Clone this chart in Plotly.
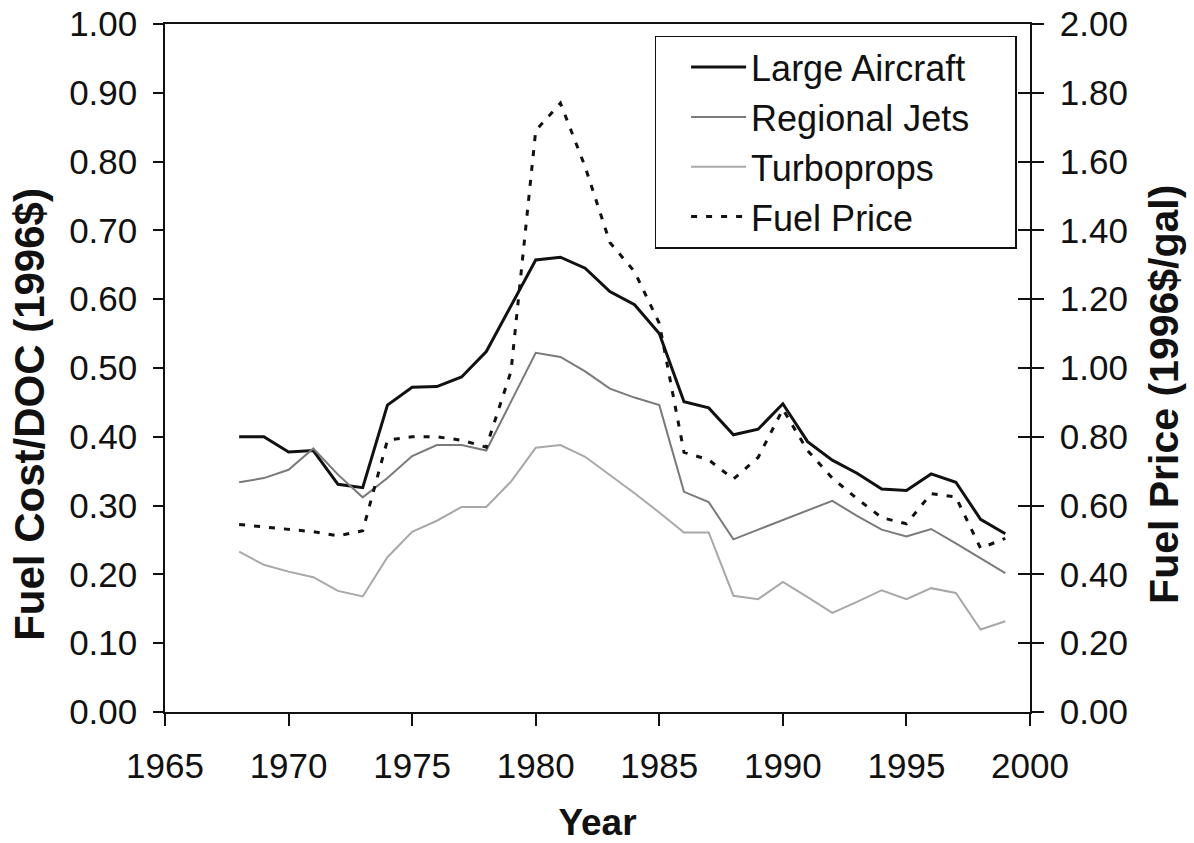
import plotly.graph_objects as go

years = list(range(1968, 2000))

large_aircraft = [0.400, 0.400, 0.378, 0.380, 0.331, 0.326, 0.446, 0.472, 0.473, 0.487,
                  0.524, 0.590, 0.657, 0.661, 0.645, 0.611, 0.592, 0.550, 0.451, 0.442,
                  0.403, 0.411, 0.448, 0.393, 0.366, 0.347, 0.324, 0.322, 0.346, 0.334,
                  0.280, 0.259]

regional_jets = [0.334, 0.340, 0.352, 0.383, 0.345, 0.312, 0.340, 0.372, 0.388, 0.388,
                 0.380, 0.450, 0.522, 0.516, 0.495, 0.470, 0.457, 0.446, 0.320, 0.305,
                 0.251, 0.265, 0.279, 0.293, 0.307, 0.285, 0.265, 0.255, 0.266, 0.245,
                 0.224, 0.202]

turboprops = [0.233, 0.214, 0.204, 0.196, 0.176, 0.168, 0.225, 0.262, 0.278, 0.298,
              0.298, 0.335, 0.384, 0.388, 0.371, 0.345, 0.318, 0.290, 0.261, 0.261,
              0.169, 0.164, 0.189, 0.167, 0.144, 0.160, 0.177, 0.164, 0.180, 0.173,
              0.120, 0.132]

fuel_price = [0.545, 0.538, 0.530, 0.524, 0.512, 0.527, 0.790, 0.800, 0.800, 0.790,
              0.770, 0.990, 1.690, 1.770, 1.585, 1.365, 1.280, 1.130, 0.755, 0.733,
              0.677, 0.740, 0.880, 0.760, 0.680, 0.620, 0.565, 0.547, 0.635, 0.625,
              0.476, 0.505]

series_names = ["Large Aircraft", "Regional Jets", "Turboprops", "Fuel Price"]
x_title = "Year"
y_title = "Fuel Cost/DOC (1996$)"
y2_title = "Fuel Price (1996$/gal)"

FONT = "Liberation Sans, Arial, sans-serif"
PAD = "\u00a0" * 4

fig = go.Figure()
fig.add_trace(go.Scatter(x=years, y=large_aircraft, name=series_names[0] + PAD, mode="lines",
                         line=dict(color="#111111", width=3)))
fig.add_trace(go.Scatter(x=years, y=regional_jets, name=series_names[1] + PAD, mode="lines",
                         line=dict(color="#7a7a7a", width=2)))
fig.add_trace(go.Scatter(x=years, y=turboprops, name=series_names[2] + PAD, mode="lines",
                         line=dict(color="#a8a8a8", width=2)))
fig.add_trace(go.Scatter(x=years, y=fuel_price, name=series_names[3] + PAD, mode="lines",
                         yaxis="y2", line=dict(color="#111111", width=3, dash="6px,9px")))
# helper trace so the inside-tick overlay axis is drawn (cross ticks on right axis)
fig.add_trace(go.Scatter(x=years, y=fuel_price, yaxis="y3", mode="lines", opacity=0,
                         showlegend=False, hoverinfo="skip", line=dict(width=0)))

fig.update_layout(
    width=1194, height=843,
    margin=dict(l=165, r=164, t=24, b=131),
    paper_bgcolor="white", plot_bgcolor="white",
    font=dict(family=FONT, size=35, color="#111111"),
    showlegend=True,
    legend=dict(x=0.566, y=0.983, xanchor="left", yanchor="top",
                bordercolor="#111111", borderwidth=1.5, bgcolor="white",
                font=dict(family=FONT, size=36, color="#111111"),
                itemwidth=55, tracegroupgap=0, indentation=30),
    xaxis=dict(range=[1965, 2000], dtick=5, tick0=1965, showgrid=False, zeroline=False,
               automargin=False,
               showline=True, linecolor="#111111", linewidth=1.5, mirror=True,
               ticks="outside", ticklen=12, tickcolor="#111111", tickwidth=1.5,
               ticklabelstandoff=10,
               tickfont=dict(family=FONT, size=35, color="#111111"),
               title=dict(text="<b>" + x_title + "</b>", standoff=28,
                          font=dict(family=FONT, size=37, color="#111111"))),
    yaxis=dict(range=[0, 1], dtick=0.1, tickformat=".2f", showgrid=False, zeroline=False,
               automargin=False,
               showline=True, linecolor="#111111", linewidth=1.5,
               ticks="outside", ticklen=10, tickcolor="#111111", tickwidth=1.5,
               ticklabelstandoff=9,
               tickfont=dict(family=FONT, size=35, color="#111111")),
    yaxis2=dict(range=[0, 2], dtick=0.2, tickformat=".2f", overlaying="y", side="right",
                anchor="x", showgrid=False, zeroline=False, automargin=False,
                showline=True, linecolor="#111111", linewidth=1.5,
                ticks="outside", ticklen=12, tickcolor="#111111", tickwidth=1.5,
                ticklabelstandoff=9,
                tickfont=dict(family=FONT, size=35, color="#111111")),
    yaxis3=dict(range=[0, 2], dtick=0.2, overlaying="y", side="right", anchor="x",
                showgrid=False, zeroline=False, showline=False, showticklabels=False,
                automargin=False,
                ticks="inside", ticklen=12, tickcolor="#111111", tickwidth=1.5),
    annotations=[
        dict(text="<b>" + y_title + "</b>", textangle=-90, xref="paper", yref="paper",
             x=-0.156, y=0.432, xanchor="center", yanchor="middle", showarrow=False,
             font=dict(family=FONT, size=42, color="#111111")),
        dict(text="<b>" + y2_title + "</b>", textangle=-90, xref="paper", yref="paper",
             x=1.155, y=0.461, xanchor="center", yanchor="middle", showarrow=False,
             font=dict(family=FONT, size=41, color="#111111")),
    ],
)

fig.write_html("out.html", config={"displayModeBar": False},
               post_script="document.body.style.margin='0';")
